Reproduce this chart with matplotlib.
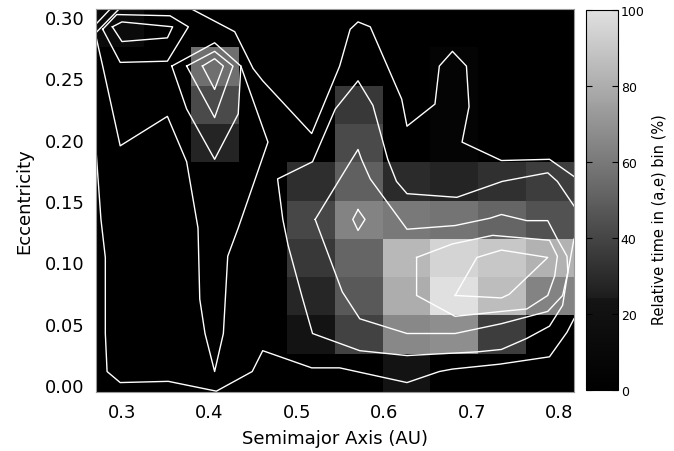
import matplotlib
matplotlib.use("Agg")
import matplotlib.pyplot as plt
import numpy as np
from matplotlib.colors import LinearSegmentedColormap

# relative time per (a,e) bin, rows from top (high e) to bottom (low e)
time_pct = [
    [12, 0, 0, 0, 0, 0, 0, 0, 0, 0],
    [0, 0, 56, 0, 0, 0, 0, 5, 0, 0],
    [0, 0, 42, 0, 0, 35, 0, 5, 0, 0],
    [0, 0, 27, 0, 0, 42, 0, 5, 0, 0],
    [0, 0, 0, 0, 31, 50, 30, 27, 32, 37],
    [0, 0, 0, 0, 41, 64, 60, 58, 52, 45],
    [0, 0, 0, 0, 35, 52, 84, 95, 90, 82],
    [0, 0, 0, 0, 28, 48, 80, 100, 86, 64],
    [0, 0, 0, 0, 22, 39, 66, 68, 37, 0],
    [0, 0, 0, 0, 0, 0, 22, 0, 0, 0],
]
a_range = (0.270, 0.817)
e_range = (-0.0057, 0.3065)
nbins = 10

# contour traces (a, e)
outer_low_a = [0.270, 0.276, 0.281, 0.281, 0.283, 0.298, 0.353, 0.408, 0.449, 0.461,
               0.517, 0.549, 0.626, 0.663, 0.678, 0.732, 0.789, 0.809, 0.817]
outer_low_e = [0.195, 0.135, 0.104, 0.042, 0.011, 0.002, 0.003, -0.005, 0.011, 0.028,
               0.014, 0.014, 0.002, 0.011, 0.013, 0.017, 0.023, 0.043, 0.054]
outer_top_a = [0.381, 0.429, 0.450, 0.461, 0.517, 0.549, 0.561, 0.570, 0.584, 0.620,
               0.626, 0.658, 0.663, 0.678, 0.694, 0.697, 0.689, 0.734, 0.789, 0.817]
outer_top_e = [0.306, 0.288, 0.258, 0.248, 0.205, 0.260, 0.290, 0.296, 0.292, 0.233,
               0.211, 0.229, 0.260, 0.272, 0.260, 0.227, 0.198, 0.183, 0.184, 0.170]
left_v_a = [0.270, 0.278, 0.298, 0.352, 0.374, 0.387, 0.389, 0.395, 0.406, 0.416,
            0.421, 0.433, 0.467, 0.436]
left_v_e = [0.285, 0.260, 0.195, 0.219, 0.182, 0.128, 0.070, 0.042, 0.011, 0.042,
            0.105, 0.128, 0.198, 0.260]
thumb_a = [0.817, 0.798, 0.787, 0.735, 0.683, 0.626, 0.614, 0.604, 0.587, 0.570,
           0.544, 0.518, 0.478, 0.484, 0.490, 0.506, 0.518, 0.572, 0.626, 0.652,
           0.706, 0.734, 0.763, 0.789, 0.804, 0.810, 0.817]
thumb_e = [0.146, 0.166, 0.173, 0.166, 0.153, 0.156, 0.166, 0.184, 0.228, 0.248,
           0.225, 0.182, 0.168, 0.135, 0.114, 0.072, 0.042, 0.028, 0.024, 0.025,
           0.027, 0.029, 0.038, 0.048, 0.065, 0.092, 0.119]
mid_ring_a = [0.521, 0.563, 0.570, 0.574, 0.584, 0.626, 0.681, 0.721, 0.734, 0.763,
              0.787, 0.798, 0.809, 0.810, 0.804, 0.787, 0.734, 0.681, 0.626, 0.572,
              0.552, 0.521]
mid_ring_e = [0.135, 0.184, 0.192, 0.184, 0.168, 0.127, 0.130, 0.136, 0.139, 0.134,
              0.134, 0.119, 0.105, 0.092, 0.073, 0.060, 0.050, 0.042, 0.042, 0.054,
              0.076, 0.135]
ring4_a = [0.637, 0.678, 0.724, 0.789, 0.798, 0.795, 0.787, 0.763, 0.734, 0.681,
           0.637, 0.637]
ring4_e = [0.104, 0.115, 0.122, 0.118, 0.105, 0.089, 0.073, 0.062, 0.060, 0.056,
           0.073, 0.104]
ring5_a = [0.681, 0.706, 0.734, 0.787, 0.743, 0.734, 0.681]
ring5_e = [0.073, 0.104, 0.110, 0.104, 0.074, 0.071, 0.073]
diamond_a = [0.570, 0.578, 0.570, 0.564, 0.570]
diamond_e = [0.143, 0.135, 0.126, 0.135, 0.143]
peak04_out_a = [0.357, 0.406, 0.436, 0.433, 0.406, 0.374, 0.357]
peak04_out_e = [0.260, 0.279, 0.260, 0.221, 0.184, 0.225, 0.260]
peak04_mid_a = [0.374, 0.406, 0.427, 0.406, 0.374]
peak04_mid_e = [0.260, 0.272, 0.260, 0.218, 0.260]
peak04_in_a = [0.392, 0.406, 0.416, 0.406, 0.392]
peak04_in_e = [0.260, 0.266, 0.260, 0.241, 0.260]
peak03_mid_a = [0.278, 0.294, 0.355, 0.376, 0.352, 0.298, 0.278]
peak03_mid_e = [0.290, 0.302, 0.301, 0.292, 0.264, 0.263, 0.290]
peak03_in_a = [0.289, 0.300, 0.358, 0.352, 0.300, 0.289]
peak03_in_e = [0.292, 0.296, 0.292, 0.283, 0.280, 0.292]
corner1_a = [0.270, 0.286]
corner1_e = [0.294, 0.306]
corner2_a = [0.270, 0.296]
corner2_e = [0.287, 0.306]

contours = [
    (outer_low_a, outer_low_e), (outer_top_a, outer_top_e), (left_v_a, left_v_e),
    (thumb_a, thumb_e), (mid_ring_a, mid_ring_e), (ring4_a, ring4_e),
    (ring5_a, ring5_e), (diamond_a, diamond_e), (peak04_out_a, peak04_out_e),
    (peak04_mid_a, peak04_mid_e), (peak04_in_a, peak04_in_e),
    (peak03_mid_a, peak03_mid_e), (peak03_in_a, peak03_in_e),
    (corner1_a, corner1_e), (corner2_a, corner2_e),
]

# grey table: black up to ~24 %, then a grey ramp
cmap = LinearSegmentedColormap.from_list(
    "idlgrey", [(0.0, (0, 0, 0)), (0.239, (0.08, 0.08, 0.08)),
                (0.241, (0.11, 0.11, 0.11)), (1.0, (0.88, 0.88, 0.88))])

plt.rcParams['font.family'] = ['DejaVu Sans']

fig = plt.figure(figsize=(6.74, 4.52), dpi=100)
ax = fig.add_axes([0.142, 0.1305, 0.7096, 0.8473])

a_edges = np.linspace(a_range[0], a_range[1], nbins + 1)
e_edges = np.linspace(e_range[0], e_range[1], nbins + 1)
mesh = ax.pcolormesh(a_edges, e_edges, np.array(time_pct)[::-1], cmap=cmap,
                     vmin=0, vmax=100)

for ca, ce in contours:
    ax.plot(ca, ce, color='white', lw=1.0)

ax.set_xlim(*a_range)
ax.set_ylim(*e_range)
ax.set_xticks([0.3, 0.4, 0.5, 0.6, 0.7, 0.8])
ax.set_xticklabels(['0.3', '0.4', '0.5', '0.6', '0.7', '0.8'])
ax.set_yticks([0.0, 0.05, 0.10, 0.15, 0.20, 0.25, 0.30])
ax.set_yticklabels(['0.00', '0.05', '0.10', '0.15', '0.20', '0.25', '0.30'])
ax.tick_params(direction='in', length=0, labelsize=13, pad=8)
for s in ax.spines.values():
    s.set_color('#999999')
    s.set_linewidth(0.8)
ax.set_xlabel('Semimajor Axis (AU)', fontsize=13, labelpad=6)
ax.set_ylabel('Eccentricity', fontsize=13, labelpad=8)

cax = fig.add_axes([0.8694, 0.135, 0.0475, 0.8407])
cb = fig.colorbar(mesh, cax=cax, ticks=[0, 20, 40, 60, 80, 100])
cb.outline.set_linewidth(0.8)
cax.tick_params(direction='in', left=True, right=True, labelleft=False,
                labelright=True, length=4, width=0.8, labelsize=9, pad=2)
cax.set_ylabel('Relative time in (a,e) bin (%)', fontsize=10.5)
cax.yaxis.set_label_coords(2.06, 0.45)

fig.savefig('out.png', dpi=100)
